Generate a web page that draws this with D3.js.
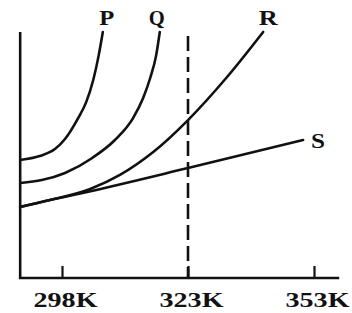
<!DOCTYPE html>
<html>
<head>
<meta charset="utf-8">
<script src="https://cdn.jsdelivr.net/npm/d3@7"></script>
<style>
  body { margin: 0; background: #fff; }
  svg { display: block; }
</style>
</head>
<body>
<div id="chart-area"></div>
<script>
// temperatures (K) and relative values (0-100)
const tempsP = [289.7, 293.6, 296.6, 298.6, 301.2, 302.8, 304.2, 305.3, 306.1]
const valsP  = [48.0, 49.6, 52.4, 56.5, 65.0, 71.5, 80.5, 90.7, 100]

const tempsQ = [289.7, 294.0, 298.6, 304.0, 308.5, 312.1, 314.1, 315.5, 316.7, 317.4]
const valsQ  = [38.6, 39.8, 42.7, 48.8, 56.1, 65.0, 73.2, 81.3, 90.7, 100]

const tempsR = [289.7, 295.6, 303.6, 309.5, 316.1, 323.0, 332.3, 340.9]
const valsR  = [28.9, 31.7, 36.2, 41.9, 51.2, 64.2, 81.7, 100]

const tempsS = [289.7, 295.6, 303.0, 323.0, 350.4]
const valsS  = [28.9, 31.7, 35.0, 44.7, 56.1]

const seriesNames = ["P", "Q", "R", "S"]
const tickTemps = [298, 323, 353]
const markTemp = 323
const tempMin = 289.7
const tempMax = 359

const WIDTH = 352
const HEIGHT = 313

// label placement from the end of each curve (styling only)
const labelStyle = {
  P: { dx: 4, dy: -7, anchor: "middle", len: 15 },
  Q: { dx: -3, dy: -7, anchor: "middle", len: 16 },
  R: { dx: 5, dy: -7, anchor: "middle", len: 19 },
  S: { dx: 8, dy: 8, anchor: "start", len: 14 }
}

const svg = d3.select("#chart-area")
  .append("svg")
  .attr("width", WIDTH)
  .attr("height", HEIGHT)

svg.append("rect")
  .attr("width", WIDTH)
  .attr("height", HEIGHT)
  .attr("fill", "#fff")

// ticks are evenly spaced on the sketch, so piecewise scale
const x = d3.scaleLinear()
  .domain(tickTemps)
  .range([62, 188, 314])

const y = d3.scaleLinear()
  .domain([0, 100])
  .range([278, 32])

const ink = "#111"

// axes frame
svg.append("path")
  .attr("d", d3.line()([
    [x(tempMin), y(100)],
    [x(tempMin), y(0)],
    [x(tempMax), y(0)]
  ]))
  .attr("fill", "none")
  .attr("stroke", ink)
  .attr("stroke-width", 2.6)

const xAxisGroup = svg.append("g")
  .attr("transform", `translate(0,${y(0)})`)

xAxisGroup.call(d3.axisBottom(x)
  .tickValues(tickTemps)
  .tickSize(-12)
  .tickFormat(d => d + "K"))

xAxisGroup.select(".domain").remove()
xAxisGroup.selectAll(".tick line")
  .attr("stroke", ink)
  .attr("stroke-width", 2.2)
xAxisGroup.selectAll(".tick text")
  .attr("y", 29)
  .attr("dy", 0)
  .attr("dx", 3)
  .attr("fill", ink)
  .attr("font-family", "Liberation Serif, serif")
  .attr("font-weight", "bold")
  .attr("font-size", 20)
  .attr("textLength", 64)
  .attr("lengthAdjust", "spacingAndGlyphs")

// dashed line at 323K
svg.append("line")
  .attr("x1", x(markTemp))
  .attr("x2", x(markTemp))
  .attr("y1", y(98.4))
  .attr("y2", y(0))
  .attr("stroke", ink)
  .attr("stroke-width", 2.6)
  .attr("stroke-dasharray", "15,6")

const series = [
  { name: "P", temps: tempsP, vals: valsP },
  { name: "Q", temps: tempsQ, vals: valsQ },
  { name: "R", temps: tempsR, vals: valsR },
  { name: "S", temps: tempsS, vals: valsS }
]

const line = d3.line()
  .x(d => x(d[0]))
  .y(d => y(d[1]))
  .curve(d3.curveMonotoneX)

svg.selectAll(".curve")
  .data(series)
  .enter().append("path")
  .attr("class", "curve")
  .attr("d", s => line(d3.zip(s.temps, s.vals)))
  .attr("fill", "none")
  .attr("stroke", ink)
  .attr("stroke-width", 2.6)
  .attr("stroke-linecap", "round")

svg.selectAll(".label")
  .data(series)
  .enter().append("text")
  .attr("class", "label")
  .attr("x", s => x(s.temps[s.temps.length - 1]) + labelStyle[s.name].dx)
  .attr("y", s => y(s.vals[s.vals.length - 1]) + labelStyle[s.name].dy)
  .attr("text-anchor", s => labelStyle[s.name].anchor)
  .attr("fill", ink)
  .attr("font-family", "Liberation Serif, serif")
  .attr("font-weight", "bold")
  .attr("font-size", 20)
  .attr("textLength", s => labelStyle[s.name].len)
  .attr("lengthAdjust", "spacingAndGlyphs")
  .text(s => s.name)
</script>
</body>
</html>
